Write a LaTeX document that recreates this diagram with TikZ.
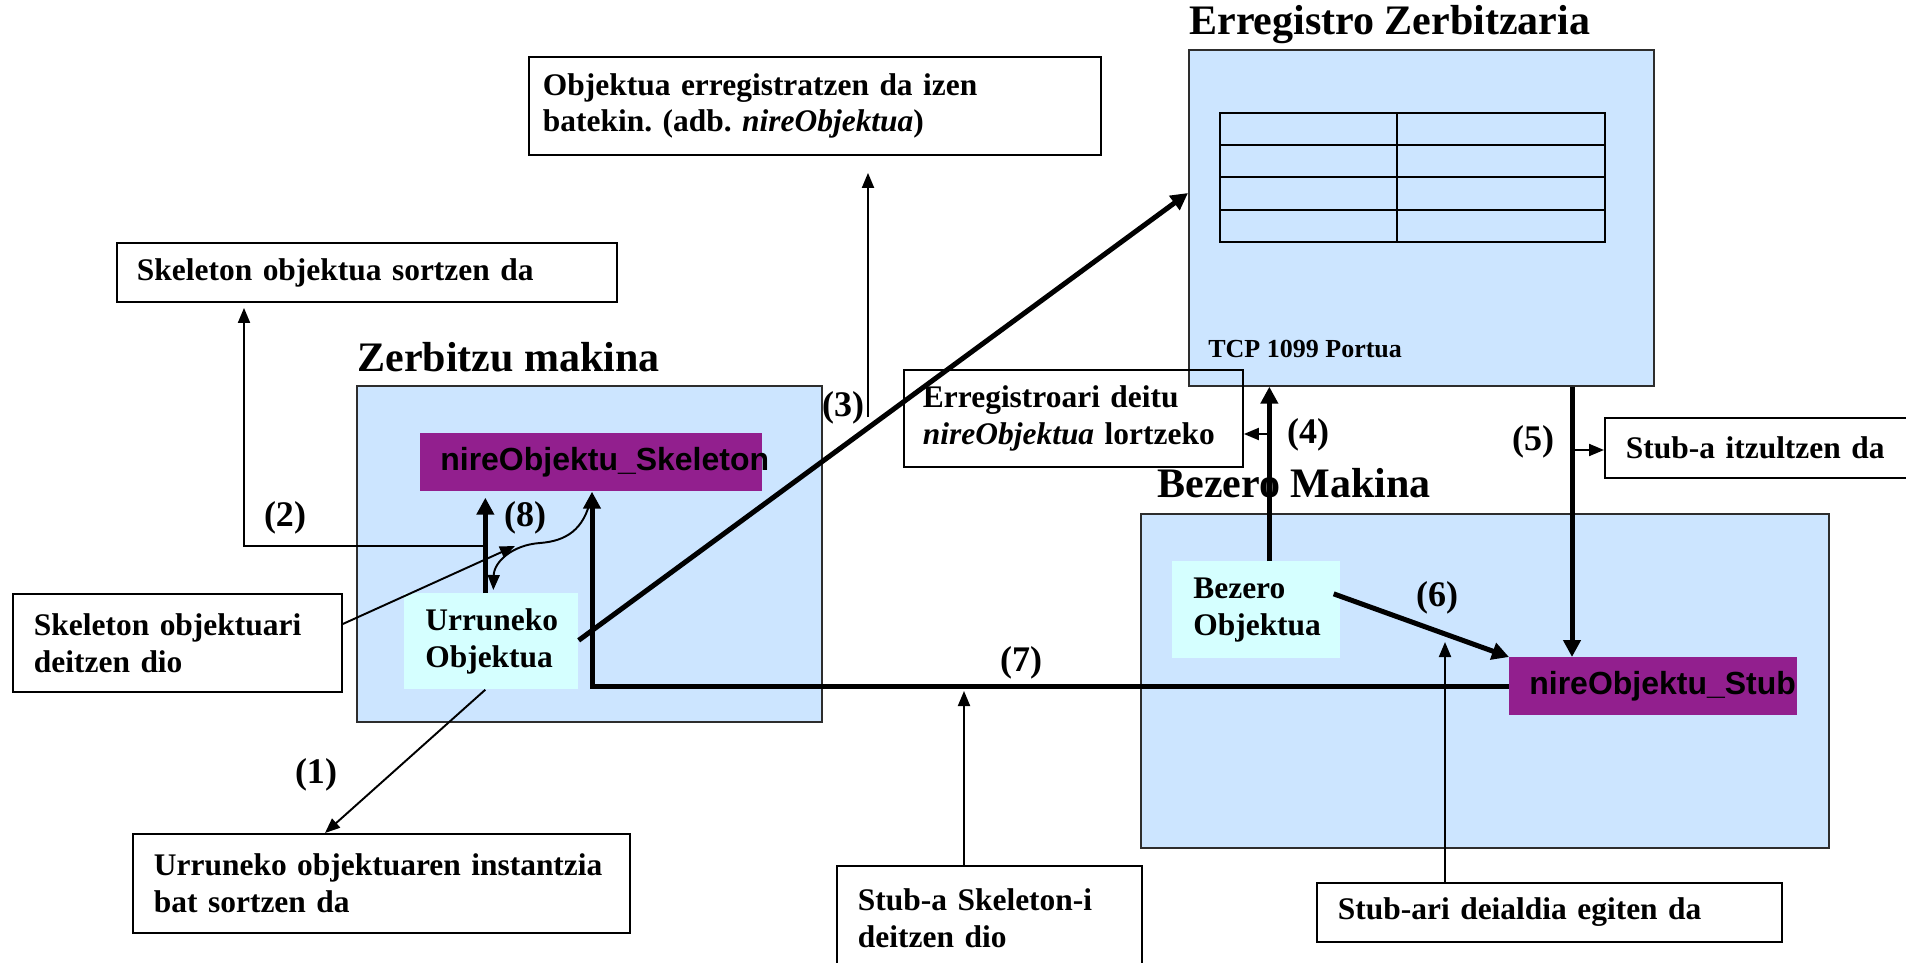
\documentclass[tikz,border=0pt]{standalone}
\usepackage{fontspec}
\setmainfont{Liberation Serif}
\setsansfont{Liberation Sans}
\usetikzlibrary{arrows.meta,calc}
\hyphenpenalty=10000
\exhyphenpenalty=10000
\frenchspacing

\definecolor{boxblue}{RGB}{204,229,255}
\definecolor{objcyan}{RGB}{213,255,255}
\definecolor{stubpurple}{RGB}{146,31,142}
\definecolor{framegray}{RGB}{45,45,45}

\begin{document}
\begin{tikzpicture}[
  x=0.02cm, y=-0.02cm,
  bodyfont/.style={font=\bfseries\fontsize{17.9}{21}\selectfont},
  container/.style={draw=framegray, line width=1pt, fill=boxblue, anchor=north west, inner sep=0pt},
  note/.style={draw=black, line width=1.1pt, anchor=north west, align=left, inner ysep=0pt, bodyfont},
  objbox/.style={fill=objcyan, anchor=north west, align=left, inner ysep=0pt, bodyfont},
  stubbox/.style={fill=stubpurple, anchor=north west, align=left, inner ysep=0pt,
                  font=\sffamily\bfseries\fontsize{18.2}{21}\selectfont},
  title/.style={anchor=base west, inner sep=0pt, font=\bfseries\fontsize{23.9}{28}\selectfont},
  portlabel/.style={anchor=base west, inner sep=0pt, font=\bfseries\fontsize{14.8}{17}\selectfont},
  stepnum/.style={inner sep=0pt, font=\bfseries\fontsize{20.5}{24}\selectfont},
  thickarrow/.style={line width=2.85pt, -{Triangle[length=0.34cm,width=0.34cm]}},
  thinarrow/.style={line width=1.1pt, -{Triangle[length=0.3cm,width=0.24cm]}},
  gridline/.style={line width=1.1pt, draw=black}
]
\useasboundingbox (0,0) rectangle (1906,963);

% machines
\node[container, minimum width=9.3cm, minimum height=6.72cm] (srv) at (356,385) {};
\node[container, minimum width=9.3cm, minimum height=6.72cm] (erreg) at (1188,49) {};
\node[container, minimum width=13.76cm, minimum height=6.68cm] (cli) at (1140,513) {};

\node[title] (srvtitle) at (357,371) {Zerbitzu makina};
\node[title] (ergtitle) at (1189,35) {Erregistro Zerbitzaria};
\node[title] (clititle) at (1157,497) {Bezero Makina};
\node[portlabel] (port) at (1208,357) {TCP 1099 Portua};

% registry table
\draw[gridline] (1220,113) rectangle (1605,242);
\draw[gridline] (1220,145) -- (1605,145) (1220,177) -- (1605,177) (1220,210) -- (1605,210);
\draw[gridline] (1397,113) -- (1397,242);

% objects
\node[stubbox, minimum width=6.84cm, minimum height=1.16cm, text width=6.04cm, inner xsep=0.4cm]
  (skel) at (420,433) {\mbox{nireObjektu\_Skeleton}};
\node[stubbox, minimum width=5.76cm, minimum height=1.16cm, text width=4.96cm, inner xsep=0.4cm]
  (stub) at (1509,657) {\mbox{nireObjektu\_Stub}};
\node[objbox, minimum width=3.48cm, minimum height=1.92cm, text width=2.64cm, inner xsep=0.42cm]
  (uo) at (404,593) {\mbox{Urruneko}\\\mbox{Objektua}};
\node[objbox, minimum width=3.36cm, minimum height=1.94cm, text width=2.52cm, inner xsep=0.42cm]
  (bo) at (1172,561) {\mbox{Bezero}\\\mbox{Objektua}};

% explanatory notes
\node[note, minimum width=11.44cm, minimum height=1.96cm, text width=10.88cm, inner xsep=0.28cm]
  (reg) at (528,56) {\mbox{Objektua erregistratzen da izen}\\\mbox{batekin. (adb. \textit{nireObjektua})}};
\node[note, minimum width=10cm, minimum height=1.18cm, text width=9.2cm, inner xsep=0.4cm]
  (skelnote) at (116,242) {\mbox{Skeleton objektua sortzen da}};
\node[note, minimum width=6.58cm, minimum height=1.96cm, text width=5.74cm, inner xsep=0.42cm]
  (callnote) at (12,593) {\mbox{Skeleton objektuari}\\\mbox{deitzen dio}};
\node[note, minimum width=9.94cm, minimum height=1.98cm, text width=9.1cm, inner xsep=0.42cm]
  (instnote) at (132,833) {\mbox{Urruneko objektuaren instantzia}\\\mbox{bat sortzen da}};
\node[note, minimum width=6.78cm, minimum height=1.94cm, text width=6.02cm, inner xsep=0.38cm]
  (lookup) at (903,369) {\mbox{Erregistroari deitu}\\\mbox{\textit{nireObjektua} lortzeko}};
\node[note, minimum width=6.2cm, minimum height=1.2cm, text width=5.36cm, inner xsep=0.42cm]
  (retnote) at (1604,417) {\mbox{Stub-a itzultzen da}};
\node[note, minimum width=6.1cm, minimum height=2.1cm, text width=5.26cm, inner xsep=0.42cm]
  (s2snote) at (836,865) {\mbox{Stub-a Skeleton-i}\\\mbox{deitzen dio}};
\node[note, minimum width=9.3cm, minimum height=1.18cm, text width=8.46cm, inner xsep=0.42cm]
  (callstub) at (1316,882) {\mbox{Stub-ari deialdia egiten da}};

% helper points on the connectors
\coordinate (k2) at (485,546);
\coordinate (k2b) at (244,546);
\coordinate (k3) at ($(erreg.north west)+(0,144)$);
\coordinate (k3b) at (868,417);
\coordinate (k4) at ($(bo.north)+(13,0)$);
\coordinate (k4b) at (1269,434);
\coordinate (k5) at (1572,450);
\coordinate (k6) at (1445,642);
\coordinate (k7) at (592,687);
\coordinate (k7b) at (964,691);
\coordinate (k8) at ($(uo.north)+(-6,0)$);
\coordinate (k8s) at (591,498);
\coordinate (k8c) at (515,546);

% (1) remote object instance
\draw[thinarrow] ($(uo.south)+(-6,0)$) -- ($(instnote.north west)+(193,0)$);
% (2) skeleton creation
\draw[thinarrow, shorten >=0.1cm] (k2) -- (k2b) -- (k2b |- skelnote.south);
% (3) registration
\draw[thickarrow] ($(uo.east)+(0,-1)$) -- (k3);
\draw[thinarrow, shorten >=0.34cm] (k3b) -- (k3b |- reg.south);
% (4) lookup
\draw[thickarrow] (k4) -- (k4 |- erreg.south);
\draw[thinarrow] (k4b) -- (k4b -| lookup.east);
% (5) stub returned
\draw[thickarrow] (k5 |- erreg.south) -- (k5 |- stub.north);
\draw[thinarrow] (k5) -- (k5 -| retnote.west);
% (6) client calls stub
\draw[thickarrow] ($(bo.east)+(-7,-16)$) -- (stub.north west);
\draw[thinarrow] (k6 |- callstub.north) -- (k6);
% (7) stub calls skeleton
\draw[thickarrow] (stub.west) -- (k7 |- stub.west) -- (k7 |- skel.south);
\draw[thinarrow] (k7b |- s2snote.north) -- (k7b);
% (8) skeleton calls remote object
\draw[thickarrow, shorten >=0.12cm] (k8) -- (k8 |- skel.south);
\draw[thinarrow] (k8s) .. controls (584,530) and (566,541) .. (540,543)
                       .. controls (512,545) and (494,562) .. ($(uo.north)+(2,-3)$);
\draw[thinarrow] ($(callnote.east)+(0,-19)$) -- (k8c);

% step numbers
\node[stepnum] (n1) at (316,775) {(1)};
\node[stepnum] (n2) at (285,518) {(2)};
\node[stepnum] (n3) at (843,408) {(3)};
\node[stepnum] (n4) at (1308,435) {(4)};
\node[stepnum] (n5) at (1533,442) {(5)};
\node[stepnum] (n6) at (1437,598) {(6)};
\node[stepnum] (n7) at (1021,663) {(7)};
\node[stepnum] (n8) at (525,518) {(8)};
\end{tikzpicture}
\end{document}
